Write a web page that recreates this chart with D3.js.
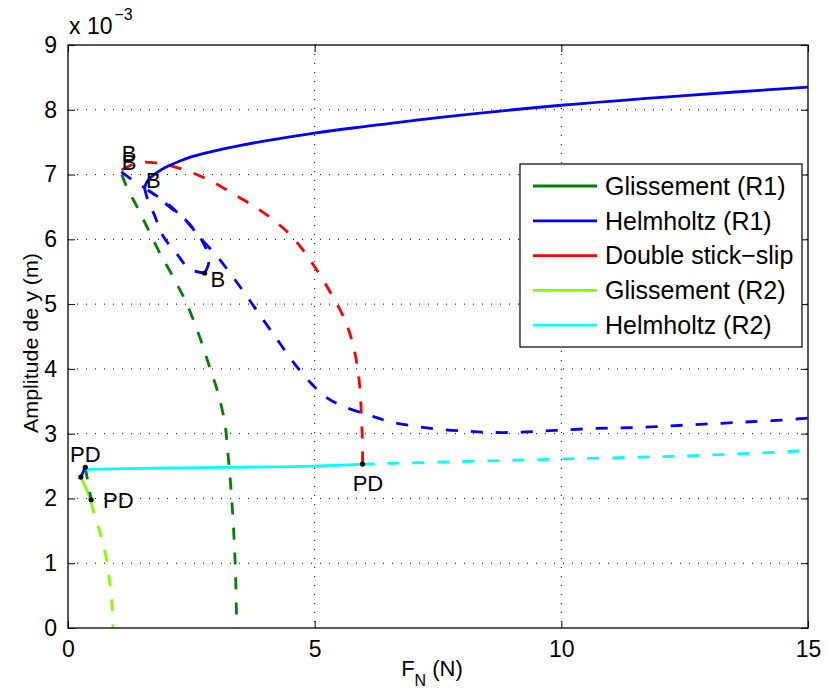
<!DOCTYPE html>
<html>
<head>
<meta charset="utf-8">
<script src="https://cdn.jsdelivr.net/npm/d3@7"></script>
<style>
html,body{margin:0;padding:0;background:#fff;}
svg text{font-family:"Liberation Sans",Arial,Helvetica,sans-serif;}
</style>
</head>
<body>
<svg id="chart" width="827" height="699"></svg>
<script>
// ---------- data ----------
const xTicks = [0, 5, 10, 15];
const yTicks = [0, 1, 2, 3, 4, 5, 6, 7, 8, 9];
const xLabelMain = "F";
const xLabelSub = "N";
const xLabelUnit = " (N)";
const yLabel = "Amplitude de y (m)";
const exponentBase = "x 10";
const exponentPow = "\u22123";

const legendNames = ["Glissement (R1)", "Helmholtz (R1)", "Double stick\u2212slip", "Glissement (R2)", "Helmholtz (R2)"];
const legendColors = ["#008000", "#0000ff", "#ff0000", "#80ff00", "#00ffff"];

// Helmholtz (R1) stable (solid) and unstable (dashed) branches, y in 1e-3 m
const helmR1Stable = [[1.55,6.78],[1.6,6.89],[1.7,6.97],[1.8,7.03],[2.0,7.12],[2.27,7.21],[2.53,7.28],[3.0,7.37],[3.5,7.45],[4.0,7.52],[5.0,7.64],[6.0,7.74],[7.5,7.88],[10,8.07],[12.5,8.22],[15,8.35]];
const helmR1UnstableA = [[1.08,7.04],[1.3,6.92],[1.55,6.8]];
const helmR1UnstableB = [[1.55,6.8],[1.60,6.65],[1.76,6.36],[1.92,6.06],[2.21,5.77],[2.47,5.54],[2.77,5.48]];
const helmR1UnstableC = [[2.77,5.48],[2.85,5.63],[2.81,5.83],[2.71,5.99],[2.57,6.14],[2.37,6.31],[2.06,6.50],[1.82,6.65],[1.62,6.76]];
const helmR1UnstableD = [[1.62,6.76],[2.00,6.56],[2.41,6.27],[2.71,6.00],[3.04,5.72],[3.40,5.36],[3.70,5.04],[4.01,4.70],[4.29,4.40],[4.57,4.10],[4.90,3.80],[5.20,3.58],[5.55,3.43],[6.09,3.29],[6.50,3.19],[7.00,3.12],[7.51,3.07],[8.06,3.04],[8.56,3.02],[9.09,3.02],[9.62,3.04],[10.12,3.06],[10.65,3.08],[11.17,3.09],[11.68,3.10],[12.21,3.12],[12.71,3.14],[13.24,3.16],[13.74,3.18],[14.27,3.20],[14.82,3.23],[15,3.24]];
const helmR1ShortSolid = [[0.26,2.33],[0.35,2.48]];

// Double stick-slip (unstable)
const doubleStickSlip = [[1.09,7.07],[1.40,7.18],[1.78,7.18],[2.33,7.08],[2.87,6.91],[3.40,6.68],[3.85,6.47],[4.23,6.26],[4.60,5.99],[4.98,5.60],[5.35,5.14],[5.61,4.76],[5.76,4.42],[5.86,4.06],[5.92,3.67],[5.95,3.21],[5.97,2.82],[5.97,2.53]];

// Glissement (R1) (unstable)
const glisR1 = [[1.09,7.0],[1.19,6.81],[1.40,6.50],[1.66,6.10],[1.86,5.79],[2.13,5.42],[2.41,5.00],[2.67,4.49],[2.87,4.03],[3.04,3.63],[3.18,3.16],[3.235,2.75],[3.285,2.33],[3.32,1.98],[3.355,1.55],[3.38,1.16],[3.40,0.74],[3.42,0]];
const glisR1Short = [[0.35,2.48],[0.47,1.98]];

// Glissement (R2)
const glisR2Stable = [[0.26,2.33],[0.38,2.13],[0.47,1.95]];
const glisR2Unstable = [[0.47,1.95],[0.51,1.82],[0.65,1.47],[0.77,1.10],[0.84,0.74],[0.89,0.39],[0.91,0]];

// Helmholtz (R2)
const helmR2Stable = [[0.34,2.45],[2.06,2.47],[5.0,2.50],[5.97,2.53]];
const helmR2Unstable = [[5.97,2.53],[6.48,2.54],[8,2.57],[10,2.61],[12.21,2.65],[14.27,2.71],[15,2.74]];

// bifurcation points and labels
const pdPoints = [[0.35,2.48],[0.26,2.33],[0.47,1.98],[5.97,2.53]];
const bPoints = [[2.77,5.48]];
const annotations = [
  {t:"B", x:1.09, y:7.21},
  {t:"B", x:1.09, y:7.07},
  {t:"B", x:1.58, y:6.79},
  {t:"B", x:2.89, y:5.26},
  {t:"PD", x:0.04, y:2.56},
  {t:"PD", x:0.71, y:1.85},
  {t:"PD", x:5.77, y:2.11}
];

// ---------- layout ----------
const L = 68, R = 808, T = 45, B = 628;
const svg = d3.select("#chart");
const x = d3.scaleLinear().domain([0, 15]).range([L, R]);
const y = d3.scaleLinear().domain([0, 9]).range([B, T]);

// grid
const grid = svg.append("g").attr("stroke", "#000").attr("stroke-width", 1).attr("stroke-dasharray", "1,8");
grid.selectAll("line.gx").data(xTicks.filter(d => d > 0 && d < 15)).enter().append("line")
  .attr("x1", d => x(d)).attr("x2", d => x(d)).attr("y1", T).attr("y2", B);
grid.selectAll("line.gy").data(yTicks.filter(d => d > 0 && d < 9)).enter().append("line")
  .attr("y1", d => y(d)).attr("y2", d => y(d)).attr("x1", L).attr("x2", R);

// axes
const tickLen = 7;
const xAxisB = d3.axisBottom(x).tickValues(xTicks).tickSize(-tickLen).tickPadding(13).tickFormat(d3.format("d"));
const xAxisT = d3.axisTop(x).tickValues(xTicks).tickSize(-tickLen).tickFormat("");
const yAxisL = d3.axisLeft(y).tickValues(yTicks).tickSize(-tickLen).tickPadding(11).tickFormat(d3.format("d"));
const yAxisR = d3.axisRight(y).tickValues(yTicks).tickSize(-tickLen).tickFormat("");

function styleAxis(g) {
  g.select(".domain").remove();
  g.selectAll(".tick line").attr("stroke", "#000").attr("stroke-width", 1);
  g.selectAll(".tick text").attr("fill", "#000").style("font-size", "23px")
   .style("font-family", '"Liberation Sans",Arial,sans-serif');
}
svg.append("g").attr("transform", `translate(0,${B})`).call(xAxisB).call(styleAxis);
svg.append("g").attr("transform", `translate(0,${T})`).call(xAxisT).call(styleAxis);
svg.append("g").attr("transform", `translate(${L},0)`).call(yAxisL).call(styleAxis);
svg.append("g").attr("transform", `translate(${R},0)`).call(yAxisR).call(styleAxis);

// curves
const line = d3.line().x(d => x(d[0])).y(d => y(d[1])).curve(d3.curveCatmullRom.alpha(0.5));
const plot = svg.append("g");
function draw(data, color, dashed) {
  plot.append("path").datum(data).attr("d", line)
    .attr("fill", "none").attr("stroke", color).attr("stroke-width", 2.8)
    .attr("stroke-dasharray", dashed ? "12,13" : null)
    .attr("stroke-linecap", "butt");
}
draw(glisR1, legendColors[0], true);
draw(glisR2Unstable, legendColors[3], true);
draw(glisR2Stable, legendColors[3], false);
draw(glisR1Short, legendColors[0], true);
draw(helmR1UnstableA, legendColors[1], true);
draw(helmR1UnstableB, legendColors[1], true);
draw(helmR1UnstableC, legendColors[1], true);
draw(helmR1UnstableD, legendColors[1], true);
draw(doubleStickSlip, legendColors[2], true);
draw(helmR1Stable, legendColors[1], false);
draw(helmR2Unstable, legendColors[4], true);
draw(helmR2Stable, legendColors[4], false);
draw(helmR1ShortSolid, legendColors[1], false);

// points
plot.selectAll("circle.pd").data(pdPoints.concat(bPoints)).enter().append("circle")
  .attr("cx", d => x(d[0])).attr("cy", d => y(d[1])).attr("r", 2.6).attr("fill", "#000");

// annotations
svg.append("g").selectAll("text").data(annotations).enter().append("text")
  .attr("x", d => x(d.x)).attr("y", d => y(d.y)).text(d => d.t)
  .style("font-size", "22px").attr("fill", "#000");

// box
svg.append("rect").attr("x", L).attr("y", T).attr("width", R - L).attr("height", B - T)
  .attr("fill", "none").attr("stroke", "#000").attr("stroke-width", 1.3);

// exponent label
const ex = svg.append("text").attr("x", L + 1).attr("y", 34).style("font-size", "23px").attr("fill", "#000");
ex.append("tspan").text(exponentBase);
ex.append("tspan").attr("dy", -14).attr("dx", 2).style("font-size", "16px").text(exponentPow);

// x label
const xl = svg.append("text").attr("x", (L + R) / 2 - 6).attr("y", 676).attr("text-anchor", "middle")
  .style("font-size", "22px").attr("fill", "#000");
xl.append("tspan").text(xLabelMain);
xl.append("tspan").attr("dy", 10).style("font-size", "16px").text(xLabelSub);
xl.append("tspan").attr("dy", -10).text(xLabelUnit);

// y label
svg.append("text").attr("transform", `translate(38,343) rotate(-90)`)
  .attr("text-anchor", "middle").style("font-size", "21px").attr("fill", "#000")
  .attr("textLength", 180).attr("lengthAdjust", "spacingAndGlyphs").text(yLabel);

// legend
const lg = svg.append("g");
lg.append("rect").attr("x", 520).attr("y", 164).attr("width", 282).attr("height", 183)
  .attr("fill", "#fff").attr("stroke", "#000").attr("stroke-width", 1.2);
const rows = lg.selectAll("g.row").data(legendNames).enter().append("g")
  .attr("transform", (d, i) => `translate(0,${186 + i * 34.8})`);
rows.append("line").attr("x1", 533).attr("x2", 597).attr("y1", 0).attr("y2", 0)
  .attr("stroke", (d, i) => legendColors[i]).attr("stroke-width", 2.8);
rows.append("text").attr("x", 605).attr("y", 0).attr("dy", "0.35em").text(d => d)
  .style("font-size", "25px").attr("fill", "#000");
</script>
</body>
</html>
